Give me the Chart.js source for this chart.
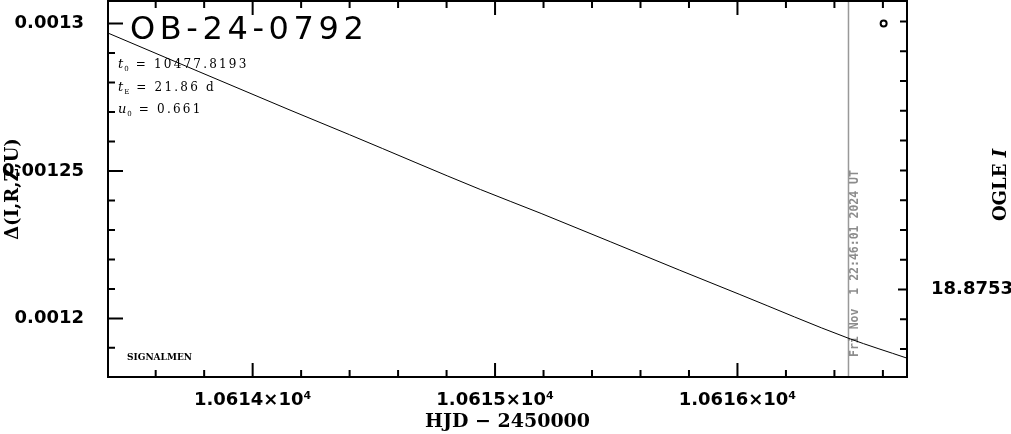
<!DOCTYPE html>
<html>
<head>
<meta charset="utf-8">
<title>OB-24-0792</title>
<script src="https://cdn.jsdelivr.net/npm/chart.js@4.4.1/dist/chart.umd.min.js"></script>
<style>
    html, body { margin: 0; padding: 0; background: #fff; }
    #wrap { width: 1011px; height: 434px; }
</style>
</head>
<body>
<div id="wrap"><canvas id="lensChart" width="1011" height="434"></canvas></div>
<script>
// ### DATA ###
const eventName = 'OB-24-0792';

// model curve (HJD - 2450000, delta)
const modelHJD   = [10613.40, 10614.15, 10614.40, 10614.94, 10615.19, 10615.76, 10616.01, 10616.46, 10616.70];
const modelDelta = [0.0012969, 0.0012708, 0.0012623, 0.0012437, 0.0012356, 0.0012164, 0.0012081, 0.0011932, 0.0011865];

// OGLE I observation
const obsHJD   = [10616.603];
const obsDelta = [0.0013];

// time stamp ("now" line)
const nowHJD = 10616.458;
const nowLabel = 'Fri Nov  1 22:46:01 2024 UT';

// axis ranges and ticks
const xRange = [10613.4033, 10616.6994];
const xTicks = [10614, 10615, 10616];
const xTickLabels = ['1.0614×10⁴', '1.0615×10⁴', '1.0616×10⁴'];
const yRange = [0.00118012, 0.00130766];
const yTicks = [0.0012, 0.00125, 0.0013];
const yTickLabels = ['0.0012', '0.00125', '0.0013'];
const magRange = [18.874331, 18.875594];
const magTicks = [18.8744, 18.8745, 18.8746, 18.8747, 18.8748, 18.8749, 18.8750, 18.8751, 18.8752, 18.8753, 18.8754, 18.8755];
const magTickLabels = ['', '', '', '', '', '', '', '', '', '18.8753', '', ''];

// fit parameters: [symbol, subscript, text]
const fitParams = [
    ['t', '0', ' = 10477.8193'],
    ['t', 'E', ' = 21.86 d'],
    ['u', '0', ' = 0.661']
];

(function () {
    const ctx = document.getElementById('lensChart').getContext('2d');

    // keep the plot box fixed: no extra label padding from the axes
    function fixBox(size, isWidth) {
        return s => {
            if (isWidth) s.width = size; else s.height = size;
            s.paddingTop = 0;
            s.paddingBottom = 0;
            s.paddingLeft = 0;
            s.paddingRight = 0;
        };
    }

    // ### FRAME + INWARD TICKS ###
    const framePlugin = {
        id: 'framePlugin',
        beforeDatasetsDraw(chart) {
            // vertical "now" line with date stamp
            const c = chart.ctx;
            const a = chart.chartArea;
            const px = chart.scales.x.getPixelForValue(nowHJD);
            c.save();
            c.strokeStyle = '#999999';
            c.lineWidth = 1.5;
            c.beginPath();
            c.moveTo(px, a.top);
            c.lineTo(px, a.bottom);
            c.stroke();
            c.translate(px + 7, a.bottom - 20);
            c.rotate(-Math.PI / 2);
            c.fillStyle = '#8c8c8c';
            c.font = 'bold 11.5px "DejaVu Sans Mono"';
            c.textAlign = 'left';
            c.textBaseline = 'middle';
            c.fillText(nowLabel, 0, 0);
            c.restore();
        },
        afterDraw(chart) {
            const c = chart.ctx;
            const a = chart.chartArea;
            const xs = chart.scales.x;
            const ys = chart.scales.y;
            const ms = chart.scales.mag;
            c.save();
            c.strokeStyle = '#000';
            c.lineWidth = 2;
            c.strokeRect(a.left, a.top, a.right - a.left, a.bottom - a.top);

            c.beginPath();
            // x ticks, bottom and top
            for (let k = 0; k <= 20; k++) {
                const v = Math.round((10613.4 + k * 0.2) * 5) / 5;
                if (v < xRange[0] || v > xRange[1]) continue;
                const major = xTicks.includes(v);
                const len = major ? 14 : 7;
                const p = xs.getPixelForValue(v);
                c.moveTo(p, a.bottom); c.lineTo(p, a.bottom - len);
                c.moveTo(p, a.top); c.lineTo(p, a.top + len);
            }
            // left y ticks
            for (let k = 118; k <= 130; k++) {
                const v = k / 100000;
                if (v < yRange[0] || v > yRange[1]) continue;
                const major = (k % 5 === 0);
                const len = major ? 15 : 7;
                const p = ys.getPixelForValue(v);
                c.moveTo(a.left, p); c.lineTo(a.left + len, p);
            }
            // right magnitude ticks
            magTicks.forEach((v, i) => {
                const len = magTickLabels[i] ? 9 : 7;
                const p = ms.getPixelForValue(v);
                c.moveTo(a.right, p); c.lineTo(a.right - len, p);
            });
            c.stroke();

            // ### ANNOTATIONS ###
            c.fillStyle = '#000';
            c.textBaseline = 'alphabetic';
            c.textAlign = 'left';

            // event name
            c.font = '32px "DejaVu Sans"';
            c.letterSpacing = '4.6px';
            c.fillText(eventName, a.left + 22, a.top + 38);
            c.letterSpacing = '0px';

            // fit parameters
            fitParams.forEach((p, i) => {
                let x = a.left + 10;
                const y = a.top + 67 + i * 22.5;
                c.font = 'italic 13px "DejaVu Serif"';
                c.fillText(p[0], x, y);
                x += c.measureText(p[0]).width + 1;
                c.font = '7px "DejaVu Serif"';
                c.fillText(p[1], x, y + 3);
                x += c.measureText(p[1]).width + 1;
                c.font = '12px "DejaVu Serif"';
                c.letterSpacing = '2.2px';
                c.fillText(p[2], x, y);
                c.letterSpacing = '0px';
            });

            // credit
            c.font = 'bold 9px "DejaVu Serif"';
            c.fillText('SIGNALMEN', a.left + 19, a.bottom - 17);

            // right axis title, reading bottom to top
            c.save();
            c.translate(1001, (a.top + a.bottom) / 2 - 4);
            c.rotate(-Math.PI / 2);
            c.textBaseline = 'middle';
            c.font = 'bold 18px "DejaVu Serif"';
            const w1 = c.measureText('OGLE ').width;
            c.font = 'bold italic 18px "DejaVu Serif"';
            const w2 = c.measureText('I').width;
            c.font = 'bold 18px "DejaVu Serif"';
            c.fillText('OGLE ', -(w1 + w2) / 2, 0);
            c.font = 'bold italic 18px "DejaVu Serif"';
            c.fillText('I', -(w1 + w2) / 2 + w1, 0);
            c.restore();

            c.restore();
        }
    };

    const tickFont = { family: 'DejaVu Sans', size: 18, weight: 'bold' };

    new Chart(ctx, {
        data: {
            datasets: [
                {
                    type: 'line',
                    label: 'model',
                    data: modelHJD.map((x, i) => ({ x: x, y: modelDelta[i] })),
                    borderColor: '#000',
                    borderWidth: 1,
                    pointRadius: 0,
                    cubicInterpolationMode: 'monotone',
                    fill: false,
                    xAxisID: 'x',
                    yAxisID: 'y'
                },
                {
                    type: 'scatter',
                    label: 'OGLE I',
                    data: obsHJD.map((x, i) => ({ x: x, y: obsDelta[i] })),
                    borderColor: '#000',
                    backgroundColor: 'rgba(0,0,0,0)',
                    borderWidth: 2,
                    pointRadius: 3,
                    xAxisID: 'x',
                    yAxisID: 'y'
                }
            ]
        },
        options: {
            responsive: false,
            animation: false,
            events: [],
            layout: { autoPadding: false, padding: { top: 1, left: 0, right: 0, bottom: 0 } },
            plugins: {
                legend: { display: false },
                tooltip: { enabled: false }
            },
            scales: {
                x: {
                    type: 'linear',
                    position: 'bottom',
                    min: xRange[0],
                    max: xRange[1],
                    afterFit: fixBox(57, false),
                    afterBuildTicks: s => { s.ticks = xTicks.map(v => ({ value: v })); },
                    grid: { display: false },
                    border: { display: false },
                    ticks: {
                        autoSkip: false,
                        maxRotation: 0,
                        padding: 5,
                        color: '#000',
                        font: tickFont,
                        callback: (v, i) => xTickLabels[i]
                    },
                    title: {
                        display: true,
                        text: 'HJD − 2450000',
                        color: '#000',
                        font: { family: 'DejaVu Serif', size: 19, weight: 'bold' },
                        padding: { top: 0, bottom: 1 }
                    }
                },
                y: {
                    type: 'linear',
                    position: 'left',
                    min: yRange[0],
                    max: yRange[1],
                    afterFit: fixBox(108, true),
                    afterBuildTicks: s => { s.ticks = yTicks.map(v => ({ value: v })); },
                    grid: { display: false },
                    border: { display: false },
                    ticks: {
                        autoSkip: false,
                        padding: 16,
                        color: '#000',
                        font: tickFont,
                        callback: (v, i) => yTickLabels[i]
                    },
                    title: {
                        display: true,
                        text: 'Δ(I,R,Z,U)',
                        color: '#000',
                        font: { family: 'DejaVu Serif', size: 18, weight: 'bold' },
                        padding: { top: 3, bottom: 0 }
                    }
                },
                mag: {
                    type: 'linear',
                    position: 'right',
                    reverse: true,
                    min: magRange[0],
                    max: magRange[1],
                    afterFit: fixBox(104, true),
                    afterBuildTicks: s => { s.ticks = magTicks.map(v => ({ value: v })); },
                    grid: { display: false },
                    border: { display: false },
                    ticks: {
                        autoSkip: false,
                        padding: 16,
                        color: '#000',
                        font: tickFont,
                        callback: (v, i) => magTickLabels[i]
                    }
                }
            }
        },
        plugins: [framePlugin]
    });
})();
</script>
</body>
</html>
